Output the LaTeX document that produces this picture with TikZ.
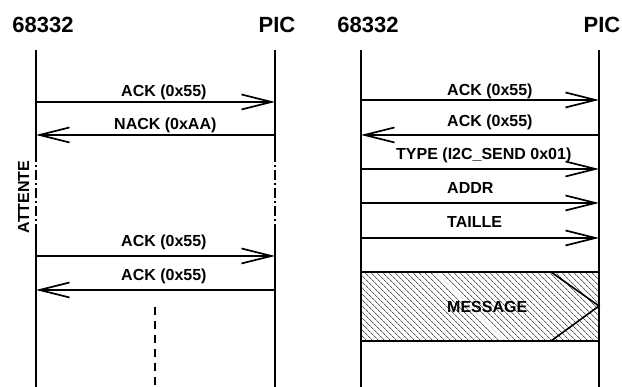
\documentclass[tikz,border=0pt]{standalone}
\usepackage{fontspec}
\setmainfont{Liberation Sans}
\usetikzlibrary{arrows.meta,patterns.meta}

\tikzset{
  life/.style={line width=1.9pt},
  wait/.style={line width=1.9pt, dash pattern=on 10pt off 3pt on 2pt off 3pt},
  msg/.style={line width=1.9pt, -{Straight Barb[length=30pt,width=15pt,line width=1.7pt]}},
  lbl/.style={font=\fontsize{16}{19}\selectfont\bfseries, inner sep=0pt, anchor=base west},
  head/.style={font=\fontsize{22}{26}\selectfont\bfseries, inner sep=0pt, anchor=base},
}

\begin{document}
\begin{tikzpicture}[x=1pt, y=-1pt]
  \useasboundingbox (0,0) rectangle (622,387);

  % headers
  \node[head] (h1) at (43,33) {68332};
  \node[head] (h2) at (277,33) {PIC};
  \node[head] (h3) at (368,33) {68332};
  \node[head] (h4) at (602,33) {PIC};

  % left panel lifelines (with waiting part)
  \coordinate (la) at (36,50);   \coordinate (lb) at (36,152);
  \coordinate (lc) at (36,230);  \coordinate (ld) at (36,387);
  \coordinate (ra) at (275,50);  \coordinate (rb) at (275,152);
  \coordinate (rc) at (275,230); \coordinate (rd) at (275,387);
  \draw[life] (la) -- (lb);
  \draw[wait] (lb) -- (lc);
  \draw[life] (lc) -- (ld);
  \draw[life] (ra) -- (rb);
  \draw[wait] (rb) -- (rc);
  \draw[life] (rc) -- (rd);
  \node[font=\fontsize{16}{19}\selectfont\bfseries, inner sep=0pt, rotate=90] (wt) at (23.5,197) {ATTENTE};

  % left panel messages
  \foreach \n/\y in {1/102,2/135,3/256,4/290} {
    \coordinate (l\n) at (36,\y);
    \coordinate (r\n) at (275,\y);
  }
  \draw[msg] (l1) -- (r1);
  \node[lbl] (t1) at (121,97) {ACK (0x55)};
  \draw[msg] (r2) -- (l2);
  \node[lbl] (t2) at (114,130) {NACK (0xAA)};
  \draw[msg] (l3) -- (r3);
  \node[lbl] (t3) at (121,247) {ACK (0x55)};
  \draw[msg] (r4) -- (l4);
  \node[lbl] (t4) at (121,281) {ACK (0x55)};

  % dashed continuation
  \coordinate (d1) at (155,307);
  \coordinate (d2) at (155,387);
  \draw[line width=1.9pt, dash pattern=on 8pt off 6pt] (d1) -- (d2);

  % right panel lifelines
  \coordinate (La) at (361,50);  \coordinate (Ld) at (361,387);
  \coordinate (Ra) at (599,50);  \coordinate (Rd) at (599,387);
  \draw[life] (La) -- (Ld);
  \draw[life] (Ra) -- (Rd);

  % right panel messages
  \foreach \n/\y in {1/100,2/135,3/169,4/203,5/238} {
    \coordinate (L\n) at (361,\y);
    \coordinate (R\n) at (599,\y);
  }
  \draw[msg] (L1) -- (R1);
  \node[lbl] (T1) at (447,96) {ACK (0x55)};
  \draw[msg] (R2) -- (L2);
  \node[lbl] (T2) at (447,127) {ACK (0x55)};
  \draw[msg] (L3) -- (R3);
  \node[lbl] (T3) at (396,160) {TYPE (I2C\_SEND 0x01)};
  \draw[msg] (L4) -- (R4);
  \node[lbl] (T4) at (447,194) {ADDR};
  \draw[msg] (L5) -- (R5);
  \node[lbl] (T5) at (447,228) {TAILLE};

  % message block
  \coordinate (b1) at (361,272);
  \coordinate (b2) at (599,341);
  \draw[line width=1.9pt, fill=white, pattern={Lines[angle=-45,distance=4pt,line width=0.5pt]}] (b1) rectangle (b2);
  \coordinate (c1) at (551,272);
  \coordinate (c2) at (599,306);
  \coordinate (c3) at (551,341);
  \draw[line width=1.6pt] (c1) -- (c2) -- (c3);
  \node[lbl] (T6) at (447,313) {MESSAGE};
\end{tikzpicture}
\end{document}
